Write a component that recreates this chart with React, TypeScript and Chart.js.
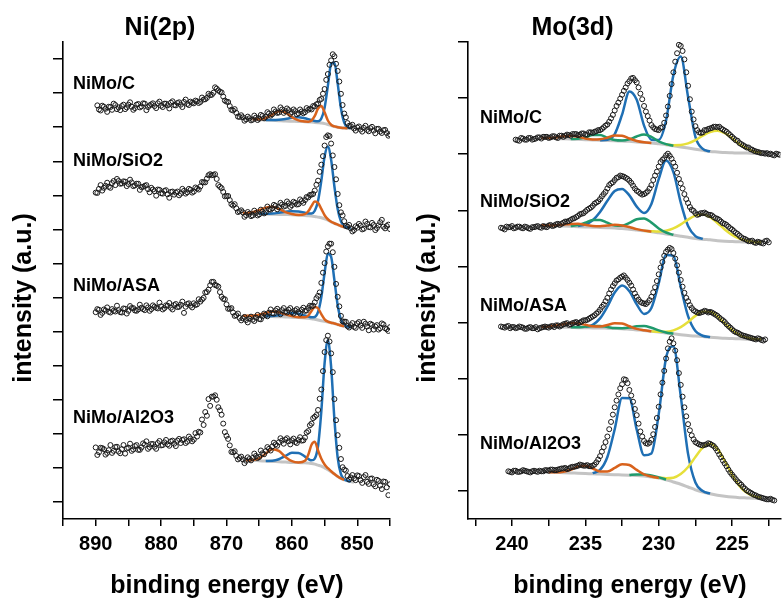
import React, { useEffect, useRef } from "react";
import { Chart, registerables } from "chart.js";
Chart.register(...registerables);

const _ = null;

// ---------- Ni(2p) panel ----------
const NI_SERIES = ["NiMo/C", "NiMo/SiO2", "NiMo/ASA", "NiMo/Al2O3"];
const NI_OFFSETS = [100, 70, 40, 0];
const NI_X_TICKS = [895, 890, 885, 880, 875, 870, 865, 860, 855, 850, 845];
const NI_Y_TICKS = [0, 10, 20, 30, 40, 50, 60, 70, 80, 90, 100, 110, 120, 130];

// scan A energies
const NI_E = [890, 889.5, 889, 888.5, 888, 887.5, 887, 886.5, 886, 885.5, 885, 884.5, 884, 883.5, 883, 882.5, 882, 881.5, 881, 880.5, 880, 879.5, 879, 878.5, 878, 877.5, 877, 876.5, 876, 875.5, 875, 874.5, 874, 873.5, 873, 872.5, 872, 871.5, 871, 870.5, 870, 869.5, 869, 868.5, 868, 867.5, 867, 866.5, 866, 865.5, 865, 864.5, 864, 863.5, 863, 862.5, 862, 861.5, 861, 860.5, 860, 859.5, 859, 858.5, 858, 857.5, 857, 856.5, 856, 855.5, 855, 854.5, 854, 853.5, 853, 852.5, 852, 851.5, 851, 850.5, 850, 849.5, 849, 848.5, 848, 847.5, 847, 846.5, 846, 845.5, 845];
// scan B energies
const NI_E_B = [889.75, 889.25, 888.75, 888.25, 887.75, 887.25, 886.75, 886.25, 885.75, 885.25, 884.75, 884.25, 883.75, 883.25, 882.75, 882.25, 881.75, 881.25, 880.75, 880.25, 879.75, 879.25, 878.75, 878.25, 877.75, 877.25, 876.75, 876.25, 875.75, 875.25, 874.75, 874.25, 873.75, 873.25, 872.75, 872.25, 871.75, 871.25, 870.75, 870.25, 869.75, 869.25, 868.75, 868.25, 867.75, 867.25, 866.75, 866.25, 865.75, 865.25, 864.75, 864.25, 863.75, 863.25, 862.75, 862.25, 861.75, 861.25, 860.75, 860.25, 859.75, 859.25, 858.75, 858.25, 857.75, 857.25, 856.75, 856.25, 855.75, 855.25, 854.75, 854.25, 853.75, 853.25, 852.75, 852.25, 851.75, 851.25, 850.75, 850.25, 849.75, 849.25, 848.75, 848.25, 847.75, 847.25, 846.75, 846.25, 845.75, 845.25];

const NI_C_DATA = [_, 15.2, 16.3, 15.4, 16.0, 15.1, 16.5, 15.8, 16.2, 15.3, 16.6, 16.0, 15.6, 16.8, 16.1, 16.9, 15.9, 16.7, 16.2, 17.0, 16.3, 16.9, 16.4, 17.2, 16.5, 17.1, 16.6, 17.4, 16.8, 17.5, 17.0, 17.6, 17.4, 18.1, 18.6, 19.4, 20.1, 21.3, 20.4, 19.0, 17.5, 16.2, 14.9, 14.2, 13.0, 12.9, 12.3, 12.6, 12.2, 12.8, 12.5, 13.3, 13.0, 14.0, 13.8, 14.6, 14.3, 15.2, 14.7, 15.0, 14.4, 14.7, 14.1, 14.6, 14.4, 15.1, 15.2, 16.1, 16.9, 18.3, 21.2, 25.6, 29.6, 30.8, 26.5, 19.8, 14.0, 11.2, 10.3, 9.6, 9.9, 9.3, 9.8, 9.2, 9.7, 9.0, 9.5, 8.7, 9.1, 8.3, 7.9];
const NI_C_DATA_B = [16.4, 14.9, 16.0, 14.5, 15.9, 16.9, 15.3, 15.0, 16.6, 15.8, 17.3, 15.1, 16.6, 15.8, 17.0, 15.0, 16.4, 17.0, 15.6, 17.5, 15.9, 16.9, 15.5, 17.6, 16.4, 17.3, 15.9, 18.1, 16.5, 17.2, 17.8, 17.1, 18.7, 18.2, 19.8, 19.5, 21.7, 20.8, 20.2, 17.8, 17.4, 15.1, 15.3, 13.1, 13.5, 11.9, 13.1, 12.0, 13.4, 12.1, 13.6, 12.6, 14.4, 13.4, 15.2, 14.2, 15.8, 14.2, 15.5, 13.9, 15.2, 13.8, 15.2, 14.1, 15.6, 15.4, 16.2, 16.7, 18.0, 19.8, 23.9, 28.3, 31.4, 28.6, 23.4, 16.5, 12.9, 10.4, 10.7, 9.0, 10.2, 8.7, 10.4, 8.8, 10.1, 8.2, 9.5, 8.3, 9.2, 7.5];
const NI_SIO2_DATA = [20.8, 21.9, 21.4, 22.8, 22.5, 23.6, 23.0, 24.2, 23.5, 24.0, 23.3, 23.8, 22.9, 23.4, 22.4, 22.8, 21.8, 22.2, 21.2, 21.7, 20.6, 21.3, 20.3, 21.0, 20.2, 21.1, 20.5, 21.3, 20.9, 21.6, 21.1, 22.0, 22.6, 23.8, 24.9, 26.2, 26.0, 24.8, 22.5, 21.0, 19.8, 18.6, 17.0, 16.2, 15.3, 15.0, 14.2, 14.6, 14.1, 14.8, 14.4, 15.2, 15.0, 15.9, 16.2, 16.9, 16.5, 17.3, 16.9, 17.6, 17.1, 17.8, 17.4, 18.3, 18.6, 19.4, 20.2, 21.4, 24.3, 29.0, 34.6, 37.6, 35.2, 28.3, 20.4, 15.0, 12.4, 10.8, 10.3, 9.8, 10.5, 11.1, 10.2, 11.6, 10.6, 11.3, 10.4, 12.1, 10.8, 11.0, 10.1];
const NI_SIO2_DATA_B = [20.7, 23.0, 22.2, 23.7, 22.2, 24.2, 24.8, 23.4, 24.1, 22.7, 24.6, 22.7, 23.4, 21.6, 22.5, 23.0, 20.9, 21.7, 19.9, 21.6, 20.5, 21.5, 19.3, 21.1, 20.8, 20.0, 21.9, 20.5, 21.9, 20.8, 22.3, 21.7, 23.9, 23.8, 25.9, 25.9, 26.2, 23.0, 22.1, 19.7, 19.8, 17.4, 17.4, 15.1, 15.6, 13.7, 15.1, 13.9, 15.5, 14.1, 15.8, 14.7, 16.7, 15.8, 17.2, 15.9, 17.8, 16.7, 18.2, 16.6, 18.1, 17.3, 18.8, 17.8, 19.5, 20.1, 20.4, 23.1, 26.9, 31.5, 37.1, 37.4, 31.7, 24.7, 17.1, 14.1, 11.0, 11.3, 9.4, 10.9, 11.6, 10.0, 12.3, 10.7, 11.9, 9.8, 11.2, 12.8, 10.3, 11.4];
const NI_ASA_DATA = [15.7, 16.4, 15.5, 16.2, 15.8, 16.6, 15.9, 16.3, 15.6, 16.7, 16.1, 16.9, 16.2, 16.5, 17.0, 16.3, 17.1, 16.6, 17.3, 16.8, 17.4, 16.9, 17.6, 17.0, 17.8, 17.2, 17.9, 15.5, 18.1, 17.6, 18.3, 18.0, 18.8, 19.9, 21.6, 23.6, 24.6, 23.5, 21.6, 19.6, 18.0, 16.7, 15.6, 14.8, 14.0, 13.9, 13.4, 13.8, 13.5, 14.1, 13.7, 14.5, 14.9, 15.6, 15.4, 16.2, 15.8, 16.3, 15.9, 16.4, 15.7, 16.2, 15.8, 16.4, 16.1, 16.9, 17.4, 18.6, 20.5, 24.3, 30.1, 35.0, 35.8, 29.0, 20.2, 14.6, 12.9, 11.6, 11.9, 11.4, 12.4, 11.8, 12.9, 11.5, 12.3, 10.6, 11.9, 11.0, 12.1, 10.7, 11.3];
const NI_ASA_DATA_B = [16.6, 14.9, 16.5, 17.1, 15.6, 16.1, 17.6, 15.7, 16.8, 15.3, 17.5, 16.9, 16.1, 17.9, 16.6, 17.7, 16.1, 17.7, 17.0, 18.5, 16.5, 17.7, 18.4, 16.5, 18.1, 17.3, 18.8, 17.3, 18.3, 17.1, 17.8, 19.5, 19.4, 21.5, 22.3, 24.6, 23.7, 23.2, 20.2, 19.5, 16.7, 16.9, 14.6, 15.3, 13.3, 14.3, 12.7, 14.4, 13.1, 14.9, 13.6, 15.3, 14.5, 16.5, 15.3, 16.7, 15.1, 16.9, 15.6, 16.9, 15.3, 16.6, 15.3, 17.0, 16.2, 17.6, 17.6, 19.8, 21.5, 27.3, 33.5, 35.8, 33.3, 24.0, 17.4, 13.0, 12.9, 11.2, 12.5, 11.1, 12.8, 11.1, 12.3, 10.4, 12.0, 11.5, 10.6, 12.4, 11.0, 10.2];
const NI_AL2O3_DATA = [16.0, 14.6, 15.8, 13.9, 15.2, 14.4, 16.1, 14.8, 15.5, 14.2, 15.9, 15.0, 16.4, 15.3, 16.0, 16.8, 15.6, 17.0, 16.2, 17.3, 16.6, 17.5, 16.9, 17.8, 17.1, 18.0, 17.3, 18.4, 17.7, 18.6, 18.3, 19.2, 20.4, 22.6, 25.3, 28.2, 30.9, 30.0, 26.9, 23.0, 19.4, 16.6, 14.6, 13.5, 12.9, 12.5, 12.1, 12.6, 12.9, 13.5, 13.2, 14.3, 14.9, 15.6, 16.3, 16.9, 17.5, 18.0, 18.3, 17.8, 18.1, 17.6, 18.2, 18.0, 18.9, 20.8, 23.0, 25.0, 27.0, 33.0, 44.0, 48.8, 43.6, 30.2, 19.6, 12.6, 9.5, 7.6, 7.2, 6.9, 7.8, 6.4, 7.3, 5.9, 6.8, 5.2, 6.5, 4.8, 6.0, 4.3, 5.2];
const NI_AL2O3_DATA_B = [13.8, 15.9, 15.5, 14.4, 16.7, 15.0, 16.2, 14.3, 16.7, 15.7, 17.1, 15.4, 16.7, 15.3, 17.2, 17.8, 16.1, 17.0, 15.6, 17.9, 16.7, 18.2, 16.5, 18.0, 16.4, 18.5, 18.2, 17.3, 19.2, 17.8, 20.2, 20.6, 24.2, 26.4, 30.2, 30.9, 31.3, 27.8, 25.6, 20.5, 18.5, 14.7, 14.9, 12.5, 13.3, 11.4, 13.1, 12.2, 14.2, 12.9, 15.1, 14.0, 16.1, 15.1, 17.4, 16.5, 18.7, 17.1, 18.7, 16.9, 18.6, 17.3, 19.0, 18.1, 20.4, 22.5, 24.6, 25.5, 30.3, 38.4, 47.5, 47.1, 38.1, 24.0, 15.9, 10.2, 9.2, 6.6, 7.9, 6.4, 7.6, 5.6, 7.9, 5.3, 6.9, 4.6, 6.2, 3.8, 5.9, 2.0];

const NI_FIT_E = [867.5, 867, 866, 865, 864, 863, 862, 861, 860, 859, 858, 857.5, 857, 856.5, 856, 855.5, 855, 854.5, 854, 853.5, 853, 852.5, 852, 851.5, 851, 850.5];

const NI_C_BG = [12.5, 12.4, 12.3, 12.2, 12.1, 12.0, 11.9, 11.8, 11.75, 11.7, 11.6, 11.55, 11.5, 11.4, 11.3, 11.2, 11.05, 10.8, 10.5, 10.2, 10.0, 9.85, 9.75, 9.7, 9.65, 9.6];
const NI_C_BLUE = [_, _, _, _, 0.02, 0.08, 0.25, 0.6, 1.0, 1.2, 1.0, 0.81, 0.6, 0.41, 0.45, 1.34, 4.68, 11.34, 18.12, 18.8, 12.8, 5.7, 1.6, 0.3, 0.0, _];
const NI_C_ORANGE = [_, _, 0.01, 0.1, 0.57, 1.7, 2.8, 2.5, 1.2, 0.3, 0.05, 0.06, 0.45, 1.9, 4.2, 5.0, 3.3, 1.15, 0.2, 0.02, 0, 0, 0, 0, _, _];

const NI_SIO2_BG = [14.8, 14.75, 14.7, 14.6, 14.5, 14.45, 14.4, 14.35, 14.3, 14.2, 14.1, 14.0, 13.9, 13.8, 13.6, 13.4, 13.1, 12.7, 12.2, 11.8, 11.4, 11.0, 10.7, 10.5, 10.3, 10.2];
const NI_SIO2_BLUE = [_, _, _, 0.02, 0.07, 0.2, 0.47, 0.8, 1.06, 1.06, 0.8, 0.64, 0.76, 1.68, 4.8, 10.9, 18.3, 21.6, 18.2, 10.8, 4.6, 1.36, 0.29, 0.04, 0, _];
const NI_SIO2_ORANGE = [0.03, 0.08, 0.37, 1.06, 1.9, 2.18, 1.6, 0.74, 0.22, 0.05, 0.38, 1.31, 2.96, 4.35, 4.17, 2.6, 1.06, 0.28, 0.05, 0, 0, 0, 0, _, _, _];

const NI_ASA_BG = [14.65, 14.6, 14.55, 14.5, 14.45, 14.4, 14.35, 14.3, 14.25, 14.15, 14.0, 13.9, 13.8, 13.6, 13.4, 13.2, 13.0, 12.8, 12.6, 12.4, 12.1, 11.8, 11.6, 11.4, 11.25, 11.15];
const NI_ASA_BLUE = [_, _, _, _, 0.05, 0.18, 0.48, 0.9, 1.18, 1.1, 0.73, 0.52, 0.42, 0.7, 2.36, 6.91, 14.23, 20.1, 19.3, 12.7, 5.65, 1.7, 0.36, 0.05, 0, _];
const NI_ASA_ORANGE = [0.01, 0.02, 0.13, 0.45, 1.0, 1.47, 1.34, 0.78, 0.29, 0.07, 0.18, 0.8, 2.24, 3.64, 3.45, 1.9, 0.61, 0.11, 0.01, 0, 0, 0, 0, _, _, _];

const NI_AL2O3_BG = [12.3, 12.25, 12.2, 12.1, 12.0, 11.9, 11.8, 11.7, 11.6, 11.55, 11.5, 11.4, 11.3, 11.1, 10.8, 10.5, 10.0, 9.5, 8.9, 8.2, 7.5, 6.9, 6.5, 6.2, 6.0, 5.8];
const NI_AL2O3_BLUE = [_, _, _, _, 0.03, 0.19, 0.73, 1.8, 2.84, 2.84, 1.8, 1.24, 0.91, 1.63, 5.69, 16.18, 30.73, 38.0, 30.7, 16.1, 5.5, 1.24, 0.18, 0.02, 0, _];
const NI_AL2O3_ORANGE = [_, 0.01, 0.13, 0.73, 2.2, 3.6, 3.18, 1.52, 0.39, 0.06, 0.6, 2.47, 5.5, 6.6, 4.3, 2.2, 1.0, 0.4, 0.12, 0, 0, 0, 0, _, _, _];

// ---------- Mo(3d) panel ----------
const MO_SERIES = ["NiMo/C", "NiMo/SiO2", "NiMo/ASA", "NiMo/Al2O3"];
const MO_OFFSETS = [60, 40, 20, 0];
const MO_X_TICKS = [242.5, 240, 237.5, 235, 232.5, 230, 227.5, 225, 222.5];
const MO_Y_TICKS = [0, 10, 20, 30, 40, 50, 60, 70, 80];

const MO_E = [240.75, 240.5, 240.25, 240, 239.75, 239.5, 239.25, 239, 238.75, 238.5, 238.25, 238, 237.75, 237.5, 237.25, 237, 236.75, 236.5, 236.25, 236, 235.75, 235.5, 235.25, 235, 234.75, 234.5, 234.25, 234, 233.75, 233.5, 233.25, 233, 232.75, 232.5, 232.25, 232, 231.75, 231.5, 231.25, 231, 230.75, 230.5, 230.25, 230, 229.75, 229.5, 229.25, 229, 228.75, 228.5, 228.25, 228, 227.75, 227.5, 227.25, 227, 226.75, 226.5, 226.25, 226, 225.75, 225.5, 225.25, 225, 224.75, 224.5, 224.25, 224, 223.75, 223.5, 223.25, 223, 222.75, 222.5, 222.25, 222, 221.75];
const MO_E_B = [240.625, 240.375, 240.125, 239.875, 239.625, 239.375, 239.125, 238.875, 238.625, 238.375, 238.125, 237.875, 237.625, 237.375, 237.125, 236.875, 236.625, 236.375, 236.125, 235.875, 235.625, 235.375, 235.125, 234.875, 234.625, 234.375, 234.125, 233.875, 233.625, 233.375, 233.125, 232.875, 232.625, 232.375, 232.125, 231.875, 231.625, 231.375, 231.125, 230.875, 230.625, 230.375, 230.125, 229.875, 229.625, 229.375, 229.125, 228.875, 228.625, 228.375, 228.125, 227.875, 227.625, 227.375, 227.125, 226.875, 226.625, 226.375, 226.125, 225.875, 225.625, 225.375, 225.125, 224.875, 224.625, 224.375, 224.125, 223.875, 223.625, 223.375, 223.125, 222.875, 222.625, 222.375, 222.125, 221.875];

const MO_C_DATA = [_, _, _, _, 2.6, 2.4, 2.8, 2.6, 2.9, 2.7, 3.0, 2.8, 3.1, 2.9, 3.2, 3.0, 3.3, 3.1, 3.5, 3.3, 3.6, 3.4, 3.7, 3.5, 3.9, 3.8, 4.1, 4.3, 4.8, 5.3, 6.4, 7.8, 9.2, 10.6, 11.9, 13.0, 13.6, 12.8, 10.8, 8.6, 6.8, 5.2, 4.5, 4.3, 4.8, 6.9, 10.4, 14.6, 18.0, 19.3, 16.9, 12.2, 7.6, 5.0, 3.9, 3.9, 4.3, 4.6, 4.9, 4.8, 4.6, 4.2, 3.7, 3.1, 2.5, 2.0, 1.6, 1.2, 0.9, 0.6, 0.4, 0.2, 0.1, 0.0, -0.1, 0.1, -0.1];
const MO_C_DATA_B = [_, _, _, _, 2.5, 2.9, 2.6, 2.9, 2.6, 2.8, 3.0, 3.1, 3.1, 3.0, 3.2, 2.9, 3.3, 3.3, 3.4, 3.6, 3.6, 3.5, 3.7, 3.5, 3.9, 4.0, 4.3, 4.5, 5.1, 5.8, 7.0, 8.6, 9.9, 11.3, 12.6, 13.5, 13.2, 11.9, 9.8, 7.6, 6.0, 4.8, 4.4, 4.7, 5.6, 8.5, 12.5, 16.5, 19.5, 18.4, 14.6, 9.8, 6.2, 4.3, 3.8, 4.3, 4.5, 4.7, 4.9, 4.9, 4.4, 4.0, 3.4, 2.8, 2.4, 1.8, 1.4, 1.2, 0.8, 0.5, 0.3, 0.2, 0.2, 0.1, -0.2, 0.0];
const MO_SIO2_DATA = [6.9, 6.6, 7.0, 7.2, 6.9, 7.1, 6.8, 7.0, 6.7, 7.0, 7.2, 6.9, 7.1, 7.3, 7.2, 7.5, 7.4, 7.8, 8.0, 8.3, 8.6, 9.0, 9.4, 9.8, 10.3, 10.8, 11.4, 12.0, 12.9, 13.9, 14.8, 15.4, 15.9, 16.1, 15.8, 15.3, 14.4, 13.5, 13.0, 12.9, 13.4, 14.5, 16.2, 17.8, 19.0, 19.8, 19.7, 18.5, 16.7, 14.8, 12.9, 11.3, 10.1, 9.5, 9.3, 9.5, 9.4, 9.2, 8.8, 8.5, 8.0, 7.6, 7.1, 6.6, 6.0, 5.5, 5.0, 4.7, 4.5, 4.3, 4.4, 4.2, 4.5, 4.3, _, _, _];
const MO_SIO2_DATA_B = [6.8, 7.1, 7.0, 6.8, 7.1, 6.9, 7.1, 6.8, 7.0, 7.1, 7.0, 7.2, 7.0, 7.4, 7.3, 7.6, 7.6, 8.0, 8.1, 8.5, 8.8, 9.3, 9.5, 10.1, 10.5, 11.2, 11.6, 12.5, 13.3, 14.5, 15.0, 15.8, 16.2, 16.0, 15.6, 14.9, 13.9, 13.3, 12.8, 13.1, 13.9, 15.4, 16.9, 18.6, 19.3, 20.1, 19.2, 17.8, 15.6, 13.9, 12.0, 10.6, 9.9, 9.2, 9.5, 9.6, 9.2, 9.1, 8.6, 8.3, 7.7, 7.4, 6.8, 6.3, 5.8, 5.2, 4.9, 4.5, 4.6, 4.2, 4.3, 4.1, 4.6, _, _, _];
const MO_ASA_DATA = [9.3, 9.1, 9.4, 9.2, 9.0, 9.3, 9.1, 8.9, 9.2, 9.0, 8.8, 9.1, 9.3, 9.1, 9.4, 9.5, 9.3, 9.7, 9.9, 9.7, 10.0, 9.9, 10.2, 10.4, 10.7, 11.1, 11.6, 12.3, 13.2, 14.4, 15.9, 17.0, 17.7, 18.2, 18.0, 17.1, 15.9, 14.6, 13.7, 13.4, 13.6, 14.6, 16.3, 18.6, 20.8, 22.6, 23.3, 22.4, 20.2, 17.6, 15.3, 13.8, 12.6, 12.0, 11.7, 11.9, 12.0, 11.9, 11.6, 11.2, 10.6, 10.1, 9.4, 8.8, 8.3, 8.0, 7.7, 7.5, 7.3, 7.1, 7.2, 6.9, 7.0, _, _, _, _];
const MO_ASA_DATA_B = [9.2, 9.3, 9.0, 9.2, 9.1, 9.2, 8.9, 9.1, 9.0, 9.2, 9.0, 9.2, 9.2, 9.3, 9.2, 9.5, 9.5, 9.8, 9.6, 9.9, 10.1, 10.0, 10.4, 10.5, 10.9, 11.3, 11.9, 12.8, 13.8, 15.2, 16.5, 17.5, 18.0, 18.4, 17.6, 16.6, 15.2, 14.1, 13.5, 13.3, 14.0, 15.4, 17.4, 19.8, 21.9, 23.0, 23.1, 21.4, 18.9, 16.4, 14.4, 13.1, 12.2, 11.8, 11.8, 12.1, 11.8, 11.8, 11.4, 10.9, 10.4, 9.7, 9.1, 8.5, 8.2, 7.8, 7.6, 7.4, 7.2, 7.0, 7.1, 6.8, _, _, _, _];
const MO_AL2O3_DATA = [_, _, 3.5, 3.3, 3.6, 3.4, 3.7, 3.5, 3.3, 3.6, 3.4, 3.5, 3.7, 3.6, 3.8, 3.7, 3.9, 4.0, 3.9, 4.2, 4.3, 4.5, 4.6, 4.5, 4.4, 4.5, 5.1, 6.2, 7.8, 9.7, 12.3, 14.9, 17.2, 19.0, 19.8, 18.0, 15.9, 13.5, 10.6, 8.9, 8.4, 9.1, 11.4, 15.0, 19.3, 23.6, 26.6, 26.3, 23.3, 18.9, 14.9, 11.9, 9.9, 8.7, 8.3, 8.1, 8.3, 8.4, 8.0, 7.1, 6.0, 4.9, 3.8, 2.9, 2.1, 1.4, 0.7, 0.1, -0.3, -0.7, -1.0, -1.2, -1.4, -1.5, -1.6, _, _];
const MO_AL2O3_DATA_B = [_, _, 3.4, 3.6, 3.4, 3.5, 3.6, 3.4, 3.5, 3.5, 3.6, 3.5, 3.7, 3.8, 3.7, 3.8, 4.0, 4.1, 4.0, 4.3, 4.4, 4.7, 4.5, 4.6, 4.4, 4.7, 5.6, 7.0, 8.7, 11.0, 13.6, 16.1, 18.3, 19.9, 19.2, 17.0, 14.6, 12.0, 9.7, 8.5, 8.6, 10.1, 13.0, 17.2, 21.4, 25.4, 27.2, 25.0, 21.0, 16.8, 13.3, 10.8, 9.2, 8.5, 8.2, 8.2, 8.5, 8.2, 7.6, 6.5, 5.4, 4.4, 3.3, 2.5, 1.7, 1.1, 0.4, -0.1, -0.5, -0.8, -1.1, -1.3, -1.5, -1.4, -1.7, _];

const MO_FIT_E = [238, 237.5, 237, 236.5, 236, 235.5, 235, 234.5, 234, 233.5, 233, 232.5, 232, 231.5, 231, 230.5, 230, 229.5, 229, 228.5, 228, 227.5, 227, 226.5, 226, 225.5, 225, 224.5, 224, 223.5, 223];

const MO_C_BG = [2.9, 2.85, 2.8, 2.75, 2.7, 2.65, 2.6, 2.55, 2.5, 2.45, 2.4, 2.35, 2.3, 2.2, 2.1, 2.0, 1.85, 1.7, 1.5, 1.3, 1.1, 0.9, 0.7, 0.5, 0.4, 0.3, 0.25, 0.2, 0.2, 0.15, 0.15];
const MO_C_BLUE = [_, _, _, _, _, _, _, _, 0.0, 0.14, 1.2, 4.7, 8.9, 7.5, 3.0, 0.6, 0.7, 4.3, 12.6, 16.1, 9.1, 2.2, 0.25, 0.0, _, _, _, _, _, _, _];
const MO_C_ORANGE = [0.01, 0.05, 0.2, 0.46, 0.6, 0.46, 0.2, 0.07, 0.16, 0.5, 0.93, 0.93, 0.5, 0.15, 0.02, 0.0, _, _, _, _, _, _, _, _, _, _, _, _, _, _, _];
const MO_C_GREEN = [_, _, _, _, 0.01, 0.09, 0.4, 0.88, 0.94, 0.5, 0.13, 0.09, 0.36, 0.97, 1.4, 1.09, 0.46, 0.1, 0.01, _, _, _, _, _, _, _, _, _, _, _, _];
const MO_C_YELLOW = [_, _, _, _, _, _, _, _, _, _, _, _, _, _, _, _, _, 0.04, 0.12, 0.35, 0.83, 1.6, 2.6, 3.45, 3.8, 3.45, 2.6, 1.6, 0.83, 0.35, 0.12];

const MO_SIO2_BG = [7.35, 7.3, 7.25, 7.2, 7.15, 7.1, 7.05, 7.0, 6.95, 6.9, 6.85, 6.75, 6.65, 6.5, 6.35, 6.2, 6.0, 5.8, 5.6, 5.4, 5.2, 5.0, 4.85, 4.75, 4.6, 4.5, 4.45, 4.4, 4.35, 4.3, 4.3];
const MO_SIO2_BLUE = [_, _, _, _, _, 0.12, 0.45, 1.25, 2.77, 4.8, 6.6, 7.07, 6.02, 4.16, 3.17, 4.95, 9.58, 13.07, 11.2, 6.0, 2.0, 0.41, 0.05, _, _, _, _, _, _, _, _];
const MO_SIO2_ORANGE = [0.0, 0.02, 0.09, 0.25, 0.44, 0.5, 0.37, 0.22, 0.22, 0.38, 0.57, 0.57, 0.37, 0.16, 0.04, 0.01, _, _, _, _, _, _, _, _, _, _, _, _, _, _, _];
const MO_SIO2_GREEN = [_, _, _, _, 0.06, 0.28, 0.76, 1.28, 1.35, 0.9, 0.45, 0.5, 1.11, 1.92, 2.18, 1.62, 0.78, 0.25, 0.05, _, _, _, _, _, _, _, _, _, _, _, _];
const MO_SIO2_YELLOW = [_, _, _, _, _, _, _, _, _, _, _, _, _, _, 0.02, 0.08, 0.23, 0.56, 1.18, 2.1, 3.16, 4.05, 4.4, 4.05, 3.16, 2.1, 1.18, 0.56, 0.23, 0.08, 0.02];

const MO_ASA_BG = [9.2, 9.2, 9.2, 9.15, 9.15, 9.1, 9.1, 9.05, 9.05, 9.0, 8.95, 8.9, 8.8, 8.7, 8.6, 8.45, 8.3, 8.15, 8.0, 7.85, 7.7, 7.6, 7.5, 7.4, 7.3, 7.2, 7.15, 7.1, 7.05, 7.0, 7.0];
const MO_ASA_BLUE = [_, _, _, _, _, _, 0.13, 0.55, 1.7, 3.85, 6.4, 7.7, 6.8, 4.55, 2.95, 4.15, 8.68, 13.9, 13.9, 8.5, 3.45, 0.89, 0.15, 0.01, _, _, _, _, _, _, _];
const MO_ASA_ORANGE = [0.03, 0.11, 0.3, 0.57, 0.78, 0.75, 0.51, 0.29, 0.26, 0.56, 0.93, 0.93, 0.54, 0.18, 0.04, 0.0, _, _, _, _, _, _, _, _, _, _, _, _, _, _, _];
const MO_ASA_GREEN = [_, _, _, _, 0.01, 0.06, 0.18, 0.32, 0.34, 0.21, 0.07, 0.11, 0.31, 0.63, 0.8, 0.63, 0.31, 0.09, 0.02, _, _, _, _, _, _, _, _, _, _, _, _];
const MO_ASA_YELLOW = [_, _, _, _, _, _, _, _, _, _, _, _, _, _, _, 0.02, 0.07, 0.23, 0.62, 1.34, 2.42, 3.6, 4.44, 4.53, 3.82, 2.66, 1.53, 0.73, 0.29, 0.09, 0.03];

const MO_AL2O3_BG = [3.4, 3.35, 3.3, 3.25, 3.2, 3.15, 3.1, 3.05, 3.0, 2.95, 2.9, 2.85, 2.8, 2.75, 2.65, 2.5, 2.3, 2.0, 1.6, 1.2, 0.7, 0.2, -0.2, -0.5, -0.75, -0.95, -1.1, -1.2, -1.25, -1.3, -1.3];
const MO_AL2O3_BLUE = [_, _, _, _, _, _, _, 0.11, 0.74, 3.1, 8.1, 13.7, 13.7, 8.16, 3.71, 4.19, 11.41, 21.71, 24.2, 15.7, 5.9, 1.3, 0.17, 0.01, _, _, _, _, _, _, _];
const MO_AL2O3_ORANGE = [_, 0.0, 0.03, 0.17, 0.58, 1.18, 1.39, 0.95, 0.47, 0.51, 1.19, 1.92, 1.82, 1.0, 0.32, 0.06, 0.01, _, _, _, _, _, _, _, _, _, _, _, _, _, _];
const MO_AL2O3_GREEN = [_, _, _, _, _, _, _, _, _, _, _, _, 0.05, 0.2, 0.3, 0.25, 0.12, 0.03, _, _, _, _, _, _, _, _, _, _, _, _, _];
const MO_AL2O3_YELLOW = [_, _, _, _, _, _, _, _, _, _, _, _, _, _, _, 0.02, 0.07, 0.26, 0.75, 1.8, 3.57, 5.85, 7.93, 8.9, 8.24, 6.3, 4.0, 2.1, 0.91, 0.33, 0.1];

// ---------- styling ----------
const FONT = '"Liberation Sans", Arial, Helvetica, sans-serif';
const BLUE = "#1f6fb4";
const ORANGE = "#d8621c";
const GREEN = "#1f9a6c";
const YELLOW = "#e6df3a";
const GRAY = "#c4c4c4";

type Comp = { color: string; vals: (number | null)[] };
type Scan = { e: number[]; vals: (number | null)[] };

function makeDatasets(fitE: number[], offsets: number[], scans: Scan[][], bg: number[][], comps: Comp[][]) {
  const sets: any[] = [];
  for (let s = 0; s < offsets.length; s++) {
    const off = offsets[s];
    scans[s].forEach((scan) => {
      const pts: { x: number; y: number }[] = [];
      scan.e.forEach((e, i) => {
        const v = scan.vals[i];
        if (v !== null && v !== undefined) pts.push({ x: e, y: off + v });
      });
      sets.push({
        data: pts,
        showLine: false,
        pointStyle: "circle",
        pointRadius: 2.5,
        pointHoverRadius: 2.5,
        pointBorderWidth: 1,
        pointBorderColor: "#1a1a1a",
        pointBackgroundColor: "rgba(255,255,255,0)",
        order: 0,
      });
    });
    sets.push({
      data: fitE.map((e, i) => ({ x: e, y: off + bg[s][i] })),
      showLine: true,
      borderColor: GRAY,
      borderWidth: 3,
      pointRadius: 0,
      cubicInterpolationMode: "monotone",
      order: 6,
    });
    comps[s].forEach((c) => {
      const line: { x: number; y: number }[] = [];
      fitE.forEach((e, i) => {
        const v = c.vals[i];
        if (v !== null && v !== undefined) line.push({ x: e, y: off + bg[s][i] + v });
      });
      sets.push({
        data: line,
        showLine: true,
        borderColor: c.color,
        borderWidth: 2.5,
        pointRadius: 0,
        cubicInterpolationMode: "monotone",
        order: 3,
      });
    });
  }
  return sets;
}

type TextSpec = {
  id: string;
  title: string;
  titleX: number;
  yTitleX: number;
  xTitleX: number;
  labelX: number;
  labelYs: number[];
  labels: string[];
};

function textPlugin(t: TextSpec) {
  return {
    id: "texts_" + t.id,
    afterDraw(chart: any) {
      const ctx = chart.ctx as CanvasRenderingContext2D;
      ctx.save();
      ctx.fillStyle = "#000";
      ctx.font = `bold 25px ${FONT}`;
      ctx.textAlign = "center";
      ctx.textBaseline = "alphabetic";
      ctx.fillText(t.title, t.titleX, 35);
      ctx.fillText("binding energy (eV)", t.xTitleX, 593);
      ctx.save();
      ctx.translate(t.yTitleX, 298);
      ctx.rotate(-Math.PI / 2);
      ctx.textBaseline = "middle";
      ctx.fillText("intensity (a.u.)", 0, 0);
      ctx.restore();
      ctx.font = `bold 18px ${FONT}`;
      ctx.textAlign = "left";
      ctx.textBaseline = "alphabetic";
      t.labels.forEach((l, i) => ctx.fillText(l, t.labelX, t.labelYs[i]));
      ctx.restore();
    },
  };
}

function makeConfig(opts: {
  datasets: any[];
  xMin: number;
  xMax: number;
  yMin: number;
  yMax: number;
  xTicks: number[];
  yTicks: number[];
  labelEvery: number;
  yWidth: number;
  padRight: number;
  text: TextSpec;
}) {
  const isLabel = (v: number) => Math.abs(v / opts.labelEvery - Math.round(v / opts.labelEvery)) < 1e-6;
  return {
    type: "scatter",
    data: { datasets: opts.datasets },
    options: {
      animation: false,
      responsive: false,
      maintainAspectRatio: false,
      events: [],
      layout: { padding: { top: 42, right: opts.padRight, left: 0, bottom: 0 } },
      plugins: { legend: { display: false }, tooltip: { enabled: false }, title: { display: false } },
      scales: {
        x: {
          type: "linear",
          reverse: true,
          min: opts.xMin,
          max: opts.xMax,
          border: { display: true, color: "#000", width: 1.6 },
          grid: { display: true, drawOnChartArea: false, drawTicks: true, tickLength: 7, color: "#000", lineWidth: 1.5 },
          ticks: {
            autoSkip: false,
            maxRotation: 0,
            minRotation: 0,
            color: "#000",
            padding: 6,
            font: { family: FONT, size: 20, weight: "bold" },
            callback: (v: any) => (isLabel(Number(v)) ? String(Math.round(Number(v))) : ""),
          },
          afterBuildTicks: (scale: any) => {
            scale.ticks = opts.xTicks.map((v) => ({ value: v }));
          },
          afterFit: (scale: any) => {
            scale.height = 81;
          },
        },
        y: {
          type: "linear",
          min: opts.yMin,
          max: opts.yMax,
          border: { display: true, color: "#000", width: 1.6 },
          grid: { display: true, drawOnChartArea: false, drawTicks: true, tickLength: 10, color: "#000", lineWidth: 1.5 },
          ticks: { display: false },
          afterBuildTicks: (scale: any) => {
            scale.ticks = opts.yTicks.map((v) => ({ value: v }));
          },
          afterFit: (scale: any) => {
            scale.width = opts.yWidth;
          },
        },
      },
    },
    plugins: [textPlugin(opts.text)],
  } as any;
}

export default function App() {
  const leftRef = useRef<HTMLCanvasElement>(null);
  const rightRef = useRef<HTMLCanvasElement>(null);

  useEffect(() => {
    const niSets = makeDatasets(
      NI_FIT_E,
      NI_OFFSETS,
      [
        [{ e: NI_E, vals: NI_C_DATA }, { e: NI_E_B, vals: NI_C_DATA_B }],
        [{ e: NI_E, vals: NI_SIO2_DATA }, { e: NI_E_B, vals: NI_SIO2_DATA_B }],
        [{ e: NI_E, vals: NI_ASA_DATA }, { e: NI_E_B, vals: NI_ASA_DATA_B }],
        [{ e: NI_E, vals: NI_AL2O3_DATA }, { e: NI_E_B, vals: NI_AL2O3_DATA_B }],
      ],
      [NI_C_BG, NI_SIO2_BG, NI_ASA_BG, NI_AL2O3_BG],
      [
        [{ color: ORANGE, vals: NI_C_ORANGE }, { color: BLUE, vals: NI_C_BLUE }],
        [{ color: ORANGE, vals: NI_SIO2_ORANGE }, { color: BLUE, vals: NI_SIO2_BLUE }],
        [{ color: ORANGE, vals: NI_ASA_ORANGE }, { color: BLUE, vals: NI_ASA_BLUE }],
        [{ color: ORANGE, vals: NI_AL2O3_ORANGE }, { color: BLUE, vals: NI_AL2O3_BLUE }],
      ]
    );
    const moSets = makeDatasets(
      MO_FIT_E,
      MO_OFFSETS,
      [
        [{ e: MO_E, vals: MO_C_DATA }, { e: MO_E_B, vals: MO_C_DATA_B }],
        [{ e: MO_E, vals: MO_SIO2_DATA }, { e: MO_E_B, vals: MO_SIO2_DATA_B }],
        [{ e: MO_E, vals: MO_ASA_DATA }, { e: MO_E_B, vals: MO_ASA_DATA_B }],
        [{ e: MO_E, vals: MO_AL2O3_DATA }, { e: MO_E_B, vals: MO_AL2O3_DATA_B }],
      ],
      [MO_C_BG, MO_SIO2_BG, MO_ASA_BG, MO_AL2O3_BG],
      [
        [{ color: ORANGE, vals: MO_C_ORANGE }, { color: GREEN, vals: MO_C_GREEN }, { color: YELLOW, vals: MO_C_YELLOW }, { color: BLUE, vals: MO_C_BLUE }],
        [{ color: ORANGE, vals: MO_SIO2_ORANGE }, { color: GREEN, vals: MO_SIO2_GREEN }, { color: YELLOW, vals: MO_SIO2_YELLOW }, { color: BLUE, vals: MO_SIO2_BLUE }],
        [{ color: ORANGE, vals: MO_ASA_ORANGE }, { color: GREEN, vals: MO_ASA_GREEN }, { color: YELLOW, vals: MO_ASA_YELLOW }, { color: BLUE, vals: MO_ASA_BLUE }],
        [{ color: ORANGE, vals: MO_AL2O3_ORANGE }, { color: GREEN, vals: MO_AL2O3_GREEN }, { color: YELLOW, vals: MO_AL2O3_YELLOW }, { color: BLUE, vals: MO_AL2O3_BLUE }],
      ]
    );

    const left = new Chart(
      leftRef.current as HTMLCanvasElement,
      makeConfig({
        datasets: niSets,
        xMin: 845,
        xMax: 895,
        yMin: -5,
        yMax: 135,
        xTicks: NI_X_TICKS,
        yTicks: NI_Y_TICKS,
        labelEvery: 10,
        yWidth: 63,
        padRight: 10,
        text: {
          id: "ni",
          title: "Ni(2p)",
          titleX: 160,
          yTitleX: 24,
          xTitleX: 227,
          labelX: 73,
          labelYs: [89, 166, 291, 423],
          labels: NI_SERIES,
        },
      })
    );
    const right = new Chart(
      rightRef.current as HTMLCanvasElement,
      makeConfig({
        datasets: moSets,
        xMin: 221.7,
        xMax: 243,
        yMin: -5,
        yMax: 80,
        xTicks: MO_X_TICKS,
        yTicks: MO_Y_TICKS,
        labelEvery: 5,
        yWidth: 68,
        padRight: 1,
        text: {
          id: "mo",
          title: "Mo(3d)",
          titleX: 172.5,
          yTitleX: 28.5,
          xTitleX: 230,
          labelX: 80,
          labelYs: [123, 207, 311, 449],
          labels: MO_SERIES,
        },
      })
    );
    return () => {
      left.destroy();
      right.destroy();
    };
  }, []);

  return (
    <div style={{ position: "fixed", left: 0, top: 0, width: 784, height: 600, background: "#fff" }}>
      <canvas ref={leftRef} width={400} height={600} style={{ position: "absolute", left: 0, top: 0, width: 400, height: 600 }} />
      <canvas ref={rightRef} width={384} height={600} style={{ position: "absolute", left: 400, top: 0, width: 384, height: 600 }} />
    </div>
  );
}
